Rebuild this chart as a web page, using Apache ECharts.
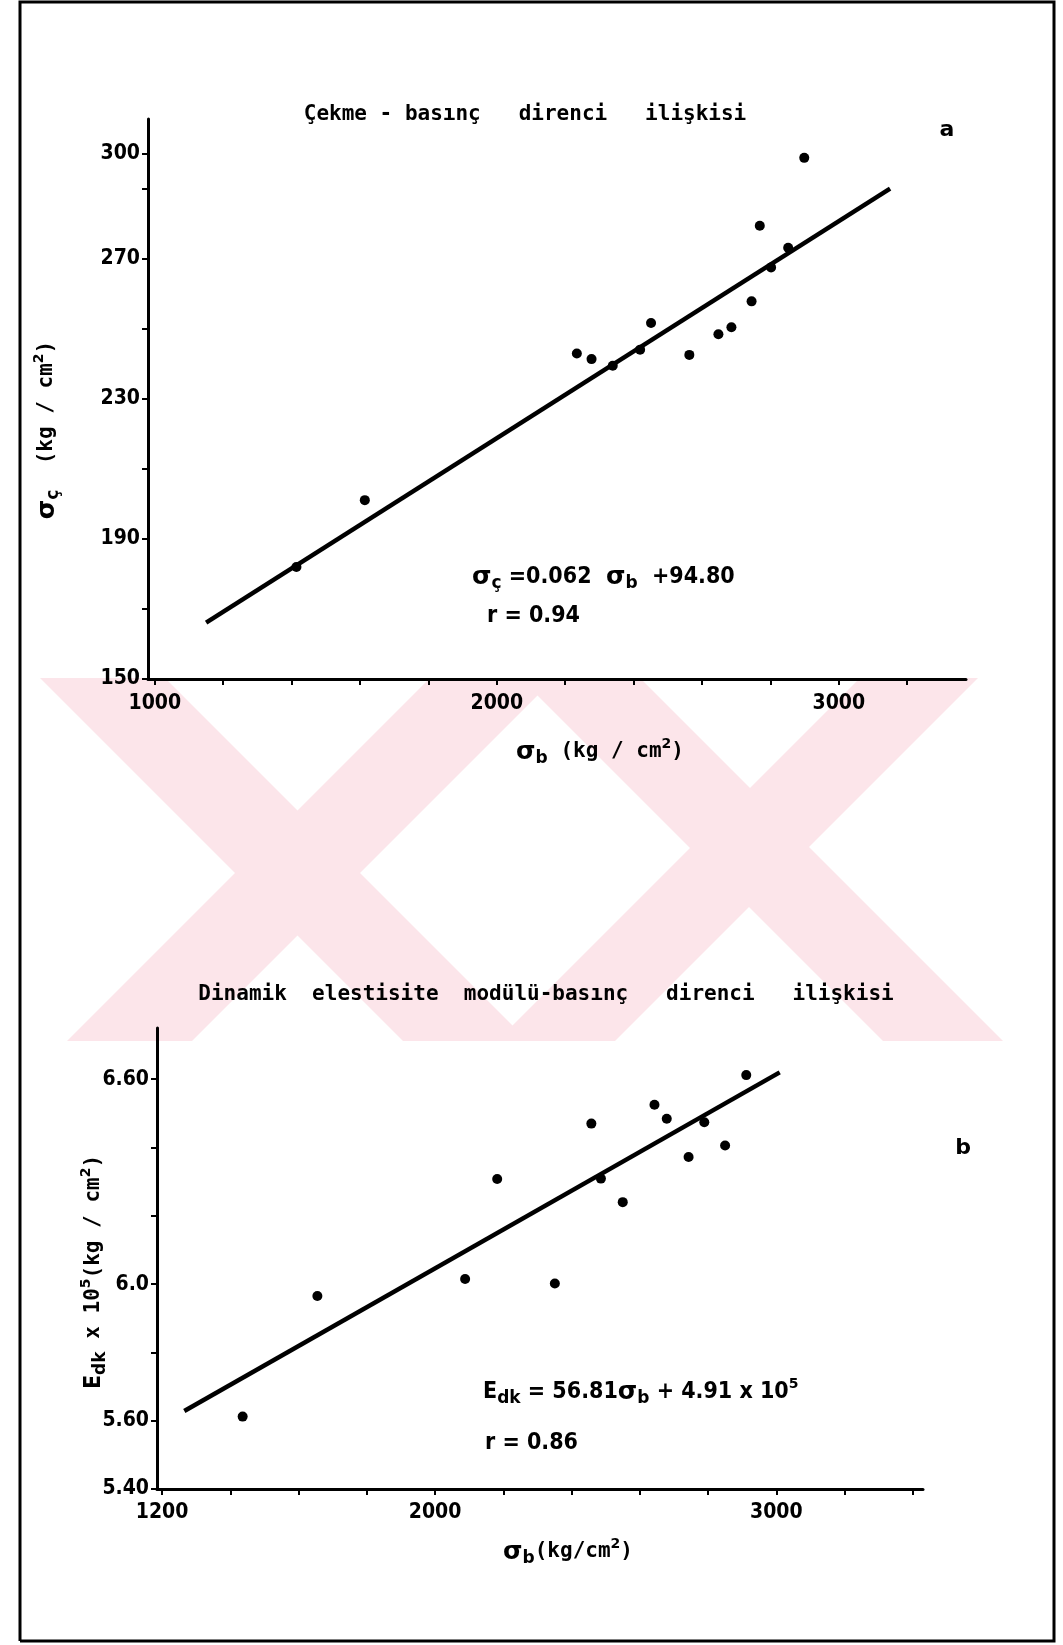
<!DOCTYPE html>
<html>
<head>
<meta charset="utf-8">
<script src="https://cdn.jsdelivr.net/npm/echarts@6/dist/echarts.min.js"></script>
<style>
  html, body { margin: 0; padding: 0; background: #fff; }
  #chart { width: 1063px; height: 1645px; }
</style>
</head>
<body>
<div id="chart"></div>
<script>
// ---- Panel a: tensile strength vs. compressive strength (kg/cm2) ----
const compA = [1414, 1614, 2234, 2277, 2339, 2419, 2451, 2563, 2648, 2686, 2745, 2769, 2802, 2852, 2899];
const tensA = [182.0, 201.1, 243.0, 241.4, 239.5, 244.1, 251.7, 242.6, 248.5, 250.5, 257.9, 279.5, 267.6, 273.2, 298.9];
const fitSlopeA = 0.062;
const fitInterceptA = 94.80;
const fitRangeA = [1150, 3150];
const xTicksA = [1000, 1200, 1400, 1600, 1800, 2000, 2200, 2400, 2600, 2800, 3000, 3200];
const xLabelsA = [1000, 2000, 3000];
const yTicksA = [150, 170, 190, 210, 230, 250, 270, 290, 300];
const yLabelsA = [150, 190, 230, 270, 300];

// ---- Panel b: dynamic elastic modulus (x10^5 kg/cm2) vs. compressive strength ----
const compB = [1436, 1655, 2088, 2182, 2351, 2458, 2486, 2550, 2643, 2679, 2743, 2789, 2850, 2912];
const edkB = [5.612, 5.965, 6.015, 6.308, 6.002, 6.470, 6.309, 6.240, 6.525, 6.484, 6.372, 6.474, 6.406, 6.612];
const fitSlopeB = 56.81;      // kg/cm2 per kg/cm2
const fitInterceptB = 4.91e5; // kg/cm2
const fitRangeB = [1265, 3010];
const xTicksB = [1200, 1400, 1600, 1800, 2000, 2200, 2400, 2600, 2800, 3000, 3200, 3400];
const xLabelsB = [1200, 2000, 3000];
const yTicksB = [5.4, 5.6, 5.8, 6.0, 6.2, 6.4, 6.6];
const yLabelValuesB = [5.4, 5.6, 6.0, 6.6];
const yLabelTextB = ['5.40', '5.60', '6.0', '6.60'];

const FONT = 'DejaVu Sans';
const COND = 'DejaVu Sans Condensed';
const MONO = 'DejaVu Sans Mono';
const INK = '#000';
const PINK = 'rgb(252,229,234)';

const lineA = fitRangeA.map(x => [x, fitSlopeA * x + fitInterceptA]);
const lineB = fitRangeB.map(x => [x, (fitSlopeB * x + fitInterceptB) / 1e5]);

function axisCommon(ticks, labels, fmt, margin) {
  return {
    type: 'value',
    axisLine: { show: true, onZero: false, lineStyle: { color: INK, width: 3 } },
    axisTick: { show: true, inside: false, length: 6, customValues: ticks, lineStyle: { color: INK, width: 2 } },
    axisLabel: {
      show: true, customValues: labels, margin: margin, color: INK,
      fontFamily: COND, fontWeight: 'bold', fontSize: 21,
      formatter: fmt
    },
    splitLine: { show: false },
    minorTick: { show: false }
  };
}

const richBase = {
  g:   { fontFamily: FONT, fontWeight: 'bold', fontSize: 25, lineHeight: 30, verticalAlign: 'middle', fill: INK },
  c:   { fontFamily: COND, fontWeight: 'bold', fontSize: 23, lineHeight: 30, verticalAlign: 'middle', fill: INK },
  m:   { fontFamily: MONO, fontWeight: 'bold', fontSize: 21, lineHeight: 30, verticalAlign: 'middle', fill: INK },
  sub: { fontFamily: FONT, fontWeight: 'bold', fontSize: 17, lineHeight: 16, verticalAlign: 'bottom', fill: INK },
  sup: { fontFamily: FONT, fontWeight: 'bold', fontSize: 14, lineHeight: 14, verticalAlign: 'top', fill: INK }
};

function richText(x, y, text, opts) {
  opts = opts || {};
  return {
    type: 'text', x: x, y: y, rotation: opts.rotation || 0, z: 50,
    style: {
      text: text, rich: richBase, fill: INK,
      font: 'bold 20px ' + FONT,
      align: opts.align || 'left', textAlign: opts.align || 'left',
      verticalAlign: 'middle', textVerticalAlign: 'middle'
    }
  };
}

function plainText(x, y, text, font, align) {
  return {
    type: 'text', x: x, y: y, z: 50,
    style: {
      text: text, fill: INK, font: font,
      align: align || 'center', textAlign: align || 'center',
      verticalAlign: 'middle', textVerticalAlign: 'middle'
    }
  };
}

// background watermark bands
function band(topL, topR, botL, botR, y0, y1) {
  return {
    type: 'polygon', z: -10, silent: true,
    shape: { points: [[topL, y0], [topR, y0], [botR, y1], [botL, y1]] },
    style: { fill: PINK }
  };
}
const WY0 = 678, WY1 = 1041;
const watermark = [
  band(40, 165, 403, 528, WY0, WY1),
  band(430, 555, 67, 192, WY0, WY1),
  band(520, 640, 883, 1003, WY0, WY1),
  band(860, 978, 497, 615, WY0, WY1)
];

function frameLine(points) {
  return { type: 'polyline', z: 60, shape: { points: points }, style: { stroke: INK, lineWidth: 3, fill: null } };
}

const option = {
  animation: false,
  backgroundColor: '#fff',
  grid: [
    { left: 148, top: 119, width: 818, height: 560, containLabel: false },
    { left: 157, top: 1028, width: 766, height: 461, containLabel: false }
  ],
  xAxis: [
    Object.assign(axisCommon(xTicksA, xLabelsA, v => String(v), 14), { gridIndex: 0, min: 980, max: 3372 }),
    Object.assign(axisCommon(xTicksB, xLabelsB, v => String(v), 13), { gridIndex: 1, min: 1185, max: 3430 })
  ],
  yAxis: [
    Object.assign(axisCommon(yTicksA, yLabelsA, v => String(v), 8), { gridIndex: 0, min: 150, max: 310 }),
    Object.assign(axisCommon(yTicksB, yLabelValuesB, v => {
      const i = yLabelValuesB.findIndex(u => Math.abs(u - v) < 1e-6);
      return i >= 0 ? yLabelTextB[i] : '';
    }, 8), { gridIndex: 1, min: 5.4, max: 6.75 })
  ],
  series: [
    {
      type: 'scatter', xAxisIndex: 0, yAxisIndex: 0, symbol: 'circle', symbolSize: 10,
      itemStyle: { color: INK, opacity: 1 }, data: compA.map((x, i) => [x, tensA[i]]), z: 5
    },
    {
      type: 'line', xAxisIndex: 0, yAxisIndex: 0, showSymbol: false, symbol: 'none',
      lineStyle: { color: INK, width: 4.5, opacity: 1 }, data: lineA, z: 4
    },
    {
      type: 'scatter', xAxisIndex: 1, yAxisIndex: 1, symbol: 'circle', symbolSize: 10,
      itemStyle: { color: INK, opacity: 1 }, data: compB.map((x, i) => [x, edkB[i]]), z: 5
    },
    {
      type: 'line', xAxisIndex: 1, yAxisIndex: 1, showSymbol: false, symbol: 'none',
      lineStyle: { color: INK, width: 4.5, opacity: 1 }, data: lineB, z: 4
    }
  ],
  graphic: [
    ...watermark,
    frameLine([[20, 1641], [20, 2], [1054, 2], [1054, 1641], [20, 1641]]),
    // titles
    plainText(525, 115, 'Çekme - basınç   direnci   ilişkisi', 'bold 21px ' + MONO),
    plainText(546, 995, 'Dinamik  elestisite  modülü-basınç   direnci   ilişkisi', 'bold 21px ' + MONO),
    // panel letters
    plainText(947, 130, 'a', 'bold 22px ' + FONT),
    plainText(963, 1148, 'b', 'bold 22px ' + FONT),
    // axis names
    richText(47, 430, '{g|σ}{sub|ç}{m|  (kg / cm}{sup|2}{m|)}', { rotation: Math.PI / 2, align: 'center' }),
    richText(600, 752, '{g|σ}{sub|b}{m| (kg / cm}{sup|2}{m|)}', { align: 'center' }),
    richText(94, 1272, '{c|E}{sub|dk}{m| x 10}{sup|5}{m|(kg / cm}{sup|2}{m|)}', { rotation: Math.PI / 2, align: 'center' }),
    richText(568, 1552, '{g|σ}{sub|b}{m|(kg/cm}{sup|2}{m|)}', { align: 'center' }),
    // regression equations
    richText(472, 577, '{g|σ}{sub|ç}{c| =0.062  }{g|σ}{sub|b}{c|  +94.80}'),
    richText(487, 616, '{c|r = 0.94}'),
    richText(483, 1392, '{c|E}{sub|dk}{c| = 56.81}{g|σ}{sub|b}{c| + 4.91 x 10}{sup|5}'),
    richText(485, 1443, '{c|r = 0.86}')
  ]
};

const chart = echarts.init(document.getElementById('chart'), null, { renderer: 'canvas' });
chart.setOption(option);
</script>
</body>
</html>
